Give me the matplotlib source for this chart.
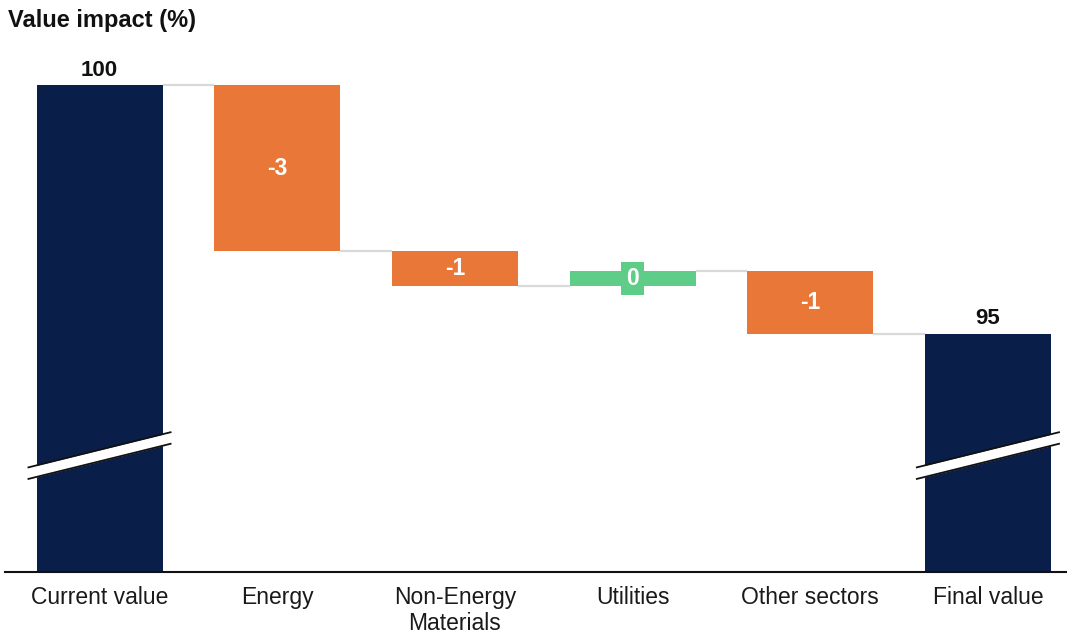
import matplotlib
matplotlib.use("Agg")
import matplotlib.pyplot as plt
import numpy as np

plt.rcParams['font.family'] = ['Liberation Sans', 'DejaVu Sans']

categories = ["Current value", "Energy", "Non-Energy\nMaterials", "Utilities", "Other sectors", "Final value"]
start_value = 100.0
deltas = [-3.3, -0.7, 0.3, -1.25]
title = "Value impact (%)"

navy = "#0A1E4A"
orange = "#E97838"
green = "#5ECD88"
conn = "#D9D9D9"

fig = plt.figure(figsize=(10.67, 6.34), dpi=100)
W, H = 1067, 634
ax = fig.add_axes([5 / W, (H - 572) / H, 1062 / W, (572 - 30) / H])

y_lo, y_hi = 90.30, 101.10
ax.set_ylim(y_lo, y_hi)
ax.set_xlim(-0.532, 5.445)

bw = 0.709
x = np.arange(len(categories))
final_value = start_value + sum(deltas)

# totals
ax.bar(x[0], start_value, width=bw, bottom=0, color=navy, zorder=2)
ax.bar(x[-1], final_value, width=bw, bottom=0, color=navy, zorder=2)

# deltas
level = start_value
levels = [start_value]
for i, d in enumerate(deltas, start=1):
    col = orange if d < 0 else green
    ax.bar(x[i], d, width=bw, bottom=level, color=col, zorder=2)
    mid = level + d / 2
    lab = f"{round(d):.0f}"
    if lab == "-0":
        lab = "0"
    if abs(d) < 0.5:
        ax.text(x[i], mid, lab, ha='center', va='center', color='white',
                fontsize=16.5, fontweight='bold', zorder=4,
                bbox=dict(boxstyle='square,pad=0.22', fc=col, ec='none'))
    else:
        ax.text(x[i], mid, lab, ha='center', va='center', color='white',
                fontsize=16.5, fontweight='bold', zorder=4)
    level += d
    levels.append(level)

# connectors
for i in range(len(categories) - 1):
    ax.plot([x[i] + bw / 2, x[i + 1] - bw / 2], [levels[i], levels[i]],
            color=conn, lw=1.6, zorder=1, solid_capstyle='butt')

# total labels
for xi, v in [(x[0], start_value), (x[-1], final_value)]:
    ax.annotate(f"{v:.0f}", (xi, v), xytext=(0, 3), textcoords='offset points',
                ha='center', va='bottom', fontsize=16, fontweight='bold', color='#111111')

# break marks
for xi in [x[0], x[-1]]:
    xs = np.array([xi - 0.40, xi + 0.40])
    yc = 92.62
    slope = 0.70 / 0.80
    yb = yc + slope * (xs - xi)
    half = 0.115
    ax.fill_between(xs, yb - half, yb + half, color='white', zorder=5, lw=0, clip_on=False)
    ax.plot(xs, yb + half, color='#111111', lw=1.3, zorder=6, clip_on=False)
    ax.plot(xs, yb - half, color='#111111', lw=1.3, zorder=6, clip_on=False)

ax.set_xticks(x)
ax.set_xticklabels(categories, fontsize=16.5, color='#1a1a1a', linespacing=1.15)
ax.tick_params(axis='x', length=0, pad=10)
ax.set_yticks([])
for s in ['left', 'right', 'top']:
    ax.spines[s].set_visible(False)
ax.spines['bottom'].set_linewidth(1.5)
ax.spines['bottom'].set_color('#111111')

fig.text(8 / W, 1 - 21 / H, title, ha='left', va='center', fontsize=17, fontweight='bold', color='#111111')

fig.savefig("out.png", dpi=100, facecolor='white')
